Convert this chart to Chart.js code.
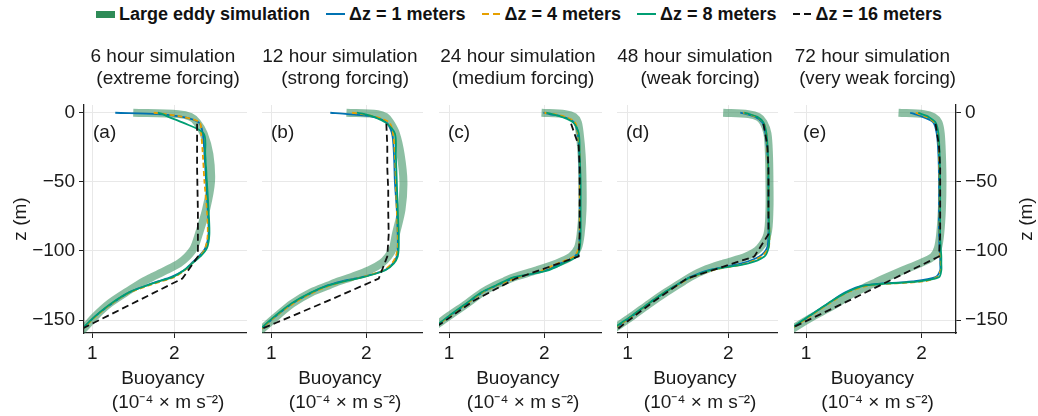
<!DOCTYPE html>
<html>
<head>
<meta charset="utf-8">
<script src="https://cdn.jsdelivr.net/npm/chart.js@4.4.1/dist/chart.umd.min.js"></script>
<style>
  body { margin: 0; background: #fff; width: 1038px; height: 416px; position: relative; overflow: hidden; }
  canvas { position: absolute; top: 40px; }
  #legend {
    position: absolute; left: 0; top: 0; width: 1038px; height: 28px;
    display: flex; justify-content: center; align-items: center; gap: 16px;
    font: bold 18px "Liberation Sans", Arial, sans-serif; color: #111;
  }
  #legend .item { display: flex; align-items: center; white-space: pre; }
  #legend .key { width: 19px; margin-right: 4px; }
  .patch { height: 7px; background: rgb(46, 139, 87); }
  .solid-blue { height: 2px; background: #0072b2; }
  .solid-green { height: 2px; background: #009e73; }
  .dash-orange { height: 2px; background: repeating-linear-gradient(to right, #e69f00 0 7px, transparent 7px 11px); }
  .dash-black { height: 2px; background: repeating-linear-gradient(to right, #111 0 7px, transparent 7px 11px); }
</style>
</head>
<body>
<div id="legend">
  <span class="item"><i class="key patch"></i>Large eddy simulation</span>
  <span class="item"><i class="key solid-blue"></i>Δz = 1 meters</span>
  <span class="item"><i class="key dash-orange"></i>Δz = 4 meters</span>
  <span class="item"><i class="key solid-green"></i>Δz = 8 meters</span>
  <span class="item"><i class="key dash-black"></i>Δz = 16 meters</span>
</div>
<canvas id="panelA" width="247" height="376" style="left:0px"></canvas>
<canvas id="panelB" width="161" height="376" style="left:262px"></canvas>
<canvas id="panelC" width="163" height="376" style="left:439px"></canvas>
<canvas id="panelD" width="161" height="376" style="left:617px"></canvas>
<canvas id="panelE" width="244" height="376" style="left:794px"></canvas>
<script>
// depths (m) where the profiles are sampled
const zGrid = [0, -1, -3, -7, -15, -30, -50, -70, -88, -98, -104, -109, -114, -119, -122, -125, -130, -138, -147, -156, -162];
// cell centres of the coarse 16 m model
const z16 = [-8, -24, -40, -56, -72, -88, -104, -120, -136, -152, -160];

const zTicks = [0, -50, -100, -150];
const bTicks = [1, 2];
const zRange = [-159.4, 5.6];

// buoyancy, 10^-4 m s^-2 -- 6 hour run
const lesA = [1.50, 2.05, 2.20, 2.28, 2.36, 2.43, 2.45, 2.39, 2.30, 2.24, 2.16, 2.06, 1.90, 1.73, 1.63, 1.545, 1.41, 1.21, 1.04, 0.90, 0.80];
const dz1A = [1.28, 1.80, 2.10, 2.30, 2.35, 2.37, 2.39, 2.41, 2.42, 2.38, 2.30, 2.21, 2.12, 1.96, 1.80, 1.66, 1.45, 1.24, 1.04, 0.89, 0.79];
const dz4A = [1.75, 1.90, 2.10, 2.31, 2.33, 2.35, 2.37, 2.40, 2.41, 2.38, 2.31, 2.22, 2.13, 2.00, 1.84, 1.69, 1.46, 1.24, 1.05, 0.89, 0.79];
const dz8A = [1.80, 1.86, 1.93, 2.10, 2.36, 2.38, 2.40, 2.42, 2.43, 2.40, 2.32, 2.22, 2.12, 1.98, 1.82, 1.67, 1.45, 1.23, 1.04, 0.88, 0.78];
const dz16A = [2.28, 2.28, 2.28, 2.285, 2.29, 2.29, 2.29, 2.10, 1.56, 1.02, 0.75];

// 12 hour run
const lesB = [1.79, 2.12, 2.20, 2.25, 2.31, 2.36, 2.39, 2.37, 2.31, 2.28, 2.23, 2.16, 2.03, 1.84, 1.71, 1.60, 1.42, 1.22, 1.06, 0.91, 0.82];
const dz1B = [1.62, 1.80, 2.07, 2.21, 2.27, 2.29, 2.30, 2.32, 2.33, 2.33, 2.32, 2.28, 2.19, 1.95, 1.74, 1.59, 1.43, 1.22, 1.05, 0.90, 0.81];
const dz4B = [1.85, 1.95, 2.10, 2.24, 2.28, 2.30, 2.31, 2.32, 2.33, 2.33, 2.31, 2.27, 2.18, 1.96, 1.77, 1.62, 1.44, 1.23, 1.05, 0.90, 0.81];
const dz8B = [1.90, 1.98, 2.08, 2.20, 2.30, 2.31, 2.32, 2.33, 2.34, 2.34, 2.33, 2.29, 2.20, 1.97, 1.76, 1.60, 1.42, 1.21, 1.04, 0.89, 0.80];
const dz16B = [2.21, 2.22, 2.22, 2.23, 2.23, 2.235, 2.22, 2.13, 1.60, 1.05, 0.77];

// 24 hour run
const lesC = [1.97, 2.22, 2.31, 2.35, 2.37, 2.39, 2.40, 2.40, 2.38, 2.35, 2.28, 2.13, 1.92, 1.68, 1.58, 1.48, 1.35, 1.19, 1.00, 0.82, 0.70];
const dz1C = [1.99, 2.05, 2.20, 2.31, 2.35, 2.365, 2.37, 2.37, 2.37, 2.36, 2.32, 2.17, 2.02, 1.72, 1.60, 1.50, 1.35, 1.19, 1.01, 0.84, 0.73];
const dz4C = [2.00, 2.10, 2.22, 2.32, 2.35, 2.37, 2.37, 2.37, 2.37, 2.36, 2.31, 2.14, 1.98, 1.73, 1.61, 1.50, 1.35, 1.19, 1.01, 0.84, 0.73];
const dz8C = [2.02, 2.08, 2.18, 2.30, 2.36, 2.37, 2.38, 2.38, 2.38, 2.37, 2.34, 2.20, 2.04, 1.68, 1.58, 1.49, 1.34, 1.18, 1.00, 0.83, 0.72];
const dz16C = [2.28, 2.36, 2.37, 2.37, 2.37, 2.37, 2.36, 1.70, 1.26, 0.93, 0.75];

// 48 hour run
const lesD = [1.95, 2.20, 2.30, 2.35, 2.39, 2.405, 2.41, 2.41, 2.39, 2.31, 2.18, 1.96, 1.76, 1.62, 1.555, 1.49, 1.38, 1.22, 1.05, 0.87, 0.76];
const dz1D = [2.12, 2.18, 2.27, 2.34, 2.37, 2.39, 2.40, 2.40, 2.40, 2.385, 2.31, 2.13, 1.80, 1.62, 1.55, 1.48, 1.37, 1.21, 1.05, 0.87, 0.76];
const dz4D = [2.15, 2.20, 2.28, 2.35, 2.38, 2.39, 2.40, 2.40, 2.41, 2.40, 2.33, 2.18, 1.84, 1.64, 1.56, 1.49, 1.37, 1.21, 1.05, 0.87, 0.76];
const dz8D = [2.16, 2.21, 2.29, 2.35, 2.38, 2.395, 2.40, 2.40, 2.41, 2.40, 2.36, 2.20, 1.82, 1.63, 1.55, 1.48, 1.37, 1.21, 1.04, 0.86, 0.75];
const dz16D = [2.35, 2.39, 2.40, 2.40, 2.40, 2.40, 2.26, 1.59, 1.27, 0.98, 0.84];

// 72 hour run
const lesE = [1.80, 2.02, 2.10, 2.145, 2.165, 2.175, 2.18, 2.175, 2.16, 2.14, 2.10, 1.985, 1.84, 1.70, 1.62, 1.545, 1.42, 1.265, 1.07, 0.89, 0.78];
const dz1E = [1.90, 1.94, 2.01, 2.10, 2.13, 2.145, 2.15, 2.15, 2.15, 2.155, 2.16, 2.16, 2.16, 2.12, 1.92, 1.50, 1.34, 1.19, 1.03, 0.88, 0.77];
const dz4E = [1.95, 1.98, 2.04, 2.11, 2.14, 2.15, 2.155, 2.155, 2.155, 2.16, 2.16, 2.165, 2.165, 2.13, 2.02, 1.55, 1.36, 1.20, 1.04, 0.88, 0.77];
const dz8E = [1.97, 2.00, 2.06, 2.12, 2.145, 2.155, 2.16, 2.16, 2.16, 2.165, 2.17, 2.17, 2.17, 2.15, 1.98, 1.52, 1.35, 1.19, 1.03, 0.87, 0.76];
const dz16E = [2.12, 2.15, 2.16, 2.16, 2.16, 2.16, 2.15, 1.76, 1.37, 0.97, 0.77];

const panelTitles = [
  ['6 hour simulation ', ' (extreme forcing)'],
  ['12 hour simulation ', ' (strong forcing)'],
  ['24 hour simulation ', ' (medium forcing)'],
  ['48 hour simulation ', ' (weak forcing)'],
  ['72 hour simulation ', ' (very weak forcing)']
];
const panelTags = ['(a)', '(b)', '(c)', '(d)', '(e)'];
const xLimits = [[0.898, 2.89], [0.901, 2.596], [0.895, 2.604], [0.895, 2.495], [0.896, 2.297]];
const xLabel = ['Buoyancy ', ' (10\u207B\u2074 \u00D7 m s\u207B\u00B2)'];
const zLabel = 'z (m)';

const FONT = '"Liberation Sans", Arial, sans-serif';
const textColor = '#1a1a1a';
const axisColor = '#222';
const gridColor = '#e8e8e8';

Chart.defaults.font.family = FONT;
Chart.defaults.font.size = 19;
Chart.defaults.color = textColor;

function profile(values, depths) {
  return values.map((b, i) => ({ x: b, y: depths[i] }));
}

function fmtDepth(v) {
  return v < 0 ? '\u2212' + Math.abs(v) : String(v);
}

// panel letter in the corner, plus the rotated depth label on the right-hand axis
const panelTag = {
  id: 'panelTag',
  afterDraw(chart, args, opts) {
    const { ctx, chartArea } = chart;
    ctx.save();
    ctx.font = '19px ' + FONT;
    ctx.fillStyle = textColor;
    ctx.textBaseline = 'middle';
    ctx.textAlign = 'left';
    ctx.fillText(opts.text, chartArea.left + 9, chartArea.top + 28);
    if (opts.rightLabel) {
      ctx.translate(chart.width - 11, (chartArea.top + chartArea.bottom) / 2);
      ctx.rotate(-Math.PI / 2);
      ctx.textAlign = 'center';
      ctx.fillText(opts.rightLabel, 0, 0);
    }
    ctx.restore();
  }
};

function makePanel(id, idx, series, yMode) {
  const [xMin, xMax] = xLimits[idx];
  const datasets = [
    { label: 'Large eddy simulation', data: profile(series.les, zGrid), borderColor: 'rgba(46, 139, 87, 0.55)', borderWidth: 8, tension: 0.3, order: 5 },
    { label: 'Δz = 1 meters', data: profile(series.dz1, zGrid), borderColor: '#0072b2', borderWidth: 1.8, tension: 0.3, order: 4 },
    { label: 'Δz = 4 meters', data: profile(series.dz4, zGrid), borderColor: '#e69f00', borderWidth: 1.8, borderDash: [5, 3], tension: 0.3, order: 3 },
    { label: 'Δz = 8 meters', data: profile(series.dz8, zGrid), borderColor: '#009e73', borderWidth: 1.8, tension: 0.3, order: 2 },
    { label: 'Δz = 16 meters', data: profile(series.dz16, z16), borderColor: '#111', borderWidth: 1.8, borderDash: [7, 4], tension: 0, order: 1 }
  ];
  datasets.forEach(d => {
    d.showLine = true;
    d.pointRadius = 0;
    d.fill = false;
    d.clip = 0;
    d.borderCapStyle = 'butt';
  });

  const yScale = {
    type: 'linear',
    min: zRange[0],
    max: zRange[1],
    afterBuildTicks: s => { s.ticks = zTicks.map(v => ({ value: v })); },
    grid: { color: gridColor, tickColor: axisColor, tickLength: 5, drawTicks: yMode !== 'none' },
    border: { display: yMode !== 'none', color: axisColor, width: 1.3 },
    ticks: { display: yMode !== 'none', padding: 4, callback: fmtDepth }
  };
  if (yMode === 'left') {
    yScale.position = 'left';
    yScale.afterFit = s => { s.width = 84; };
    yScale.title = { display: true, text: zLabel, padding: { top: 9, bottom: 0 } };
  } else if (yMode === 'right') {
    yScale.position = 'right';
    yScale.afterFit = s => { s.width = 82; };
  } else {
    yScale.afterFit = s => { s.width = 0; };
  }

  return new Chart(document.getElementById(id), {
    type: 'scatter',
    data: { datasets },
    options: {
      responsive: false,
      animation: false,
      events: [],
      layout: { padding: 0 },
      plugins: {
        legend: { display: false },
        tooltip: { enabled: false },
        panelTag: { text: panelTags[idx], rightLabel: yMode === 'right' ? zLabel : null }
      },
      scales: {
        x: {
          type: 'linear',
          position: 'bottom',
          min: xMin,
          max: xMax,
          afterBuildTicks: s => { s.ticks = bTicks.map(v => ({ value: v })); },
          afterFit: s => { s.height = 83; },
          grid: { color: gridColor, tickColor: axisColor, tickLength: 5 },
          border: { display: true, color: axisColor, width: 1.3 },
          ticks: { padding: 4, maxRotation: 0 },
          title: { display: true, text: xLabel, font: { size: 19, lineHeight: '24px' }, padding: { top: 0, bottom: 1 } }
        },
        xTop: {
          type: 'linear',
          axis: 'x',
          position: 'top',
          min: xMin,
          max: xMax,
          afterFit: s => { s.height = 65; },
          grid: { display: false },
          border: { display: false },
          ticks: { display: false },
          title: { display: true, text: panelTitles[idx], font: { size: 19, lineHeight: '22px' }, padding: { top: 6, bottom: 0 } }
        },
        y: yScale
      }
    },
    plugins: [panelTag]
  });
}

makePanel('panelA', 0, { les: lesA, dz1: dz1A, dz4: dz4A, dz8: dz8A, dz16: dz16A }, 'left');
makePanel('panelB', 1, { les: lesB, dz1: dz1B, dz4: dz4B, dz8: dz8B, dz16: dz16B }, 'none');
makePanel('panelC', 2, { les: lesC, dz1: dz1C, dz4: dz4C, dz8: dz8C, dz16: dz16C }, 'none');
makePanel('panelD', 3, { les: lesD, dz1: dz1D, dz4: dz4D, dz8: dz8D, dz16: dz16D }, 'none');
makePanel('panelE', 4, { les: lesE, dz1: dz1E, dz4: dz4E, dz8: dz8E, dz16: dz16E }, 'right');
</script>
</body>
</html>
